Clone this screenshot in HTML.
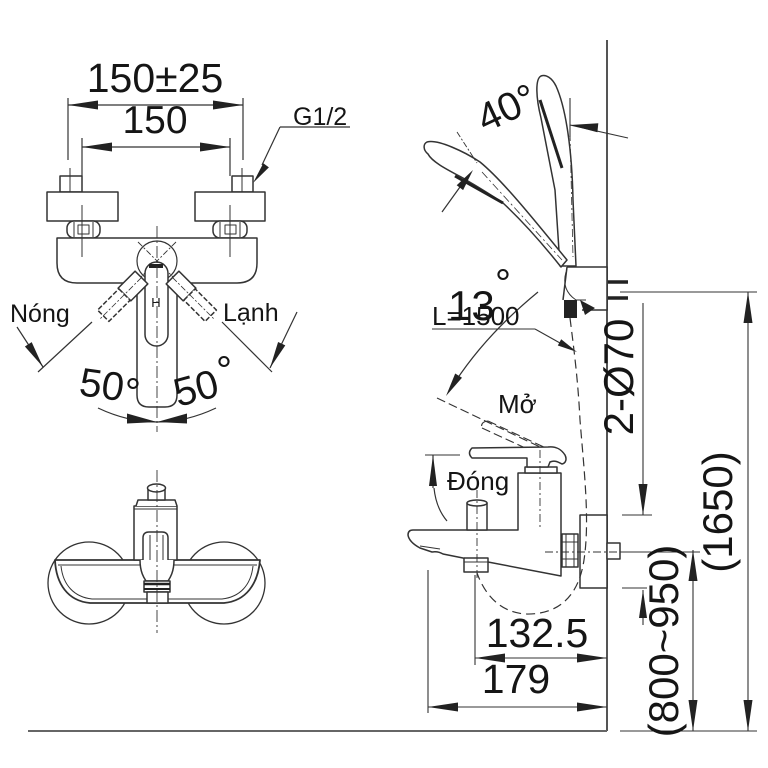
<!DOCTYPE html>
<html><head><meta charset="utf-8"><style>
html,body{margin:0;padding:0;background:#fff;}
svg{display:block}
text{font-family:"Liberation Sans",Arial,sans-serif;fill:#151515;stroke:none}
</style></head><body>
<svg width="768" height="768" viewBox="0 0 768 768" xmlns="http://www.w3.org/2000/svg">
<g fill="none" stroke="#333" stroke-width="1.5" stroke-linejoin="round">

<!-- ================= TOP-LEFT FRONT VIEW ================= -->
<!-- dimension lines -->
<line x1="68" y1="98" x2="68" y2="160" stroke-width="1.2"/>
<line x1="243" y1="98" x2="243" y2="160" stroke-width="1.2"/>
<line x1="68" y1="105" x2="243" y2="105" stroke-width="1.2"/>
<line x1="82" y1="138" x2="82" y2="176" stroke-width="1.2"/>
<line x1="230" y1="138" x2="230" y2="176" stroke-width="1.2"/>
<line x1="82" y1="147" x2="230" y2="147" stroke-width="1.2"/>
<g fill="#222" stroke="none">
<polygon points="68,105 98,100.5 98,109.5"/>
<polygon points="243,105 213,100.5 213,109.5"/>
<polygon points="82,147 112,142.5 112,151.5"/>
<polygon points="230,147 200,142.5 200,151.5"/>
</g>
<!-- G1/2 leader -->
<line x1="280" y1="127" x2="350" y2="127" stroke-width="1.2"/>
<line x1="280" y1="127" x2="262" y2="165" stroke-width="1.2"/>
<polygon points="253,183 263.3,163.2 268.9,167.4" fill="#222" stroke="none"/>

<!-- valve blocks -->
<rect x="60" y="176" width="22" height="16" fill="#fff"/>
<line x1="70" y1="168" x2="70" y2="192" stroke-width="1"/>
<rect x="232" y="176" width="21" height="16" fill="#fff"/>
<line x1="242" y1="168" x2="242" y2="192" stroke-width="1"/>
<rect x="47" y="192" width="71" height="29" fill="#fff"/>
<rect x="195" y="192" width="70" height="29" fill="#fff"/>
<rect x="67" y="221" width="33" height="17" rx="7" fill="#fff"/>
<line x1="74" y1="222" x2="74" y2="237" stroke-width="1"/>
<line x1="93" y1="222" x2="93" y2="237" stroke-width="1"/>
<rect x="78" y="225" width="11" height="9" stroke-width="1"/>
<rect x="213" y="221" width="34" height="17" rx="7" fill="#fff"/>
<line x1="220" y1="222" x2="220" y2="237" stroke-width="1"/>
<line x1="240" y1="222" x2="240" y2="237" stroke-width="1"/>
<rect x="225" y="225" width="11" height="9" stroke-width="1"/>

<!-- main body -->
<path d="M57,238 L257,238 L257,263 Q257,283 237,283 L77,283 Q57,283 57,263 Z" fill="#fff"/>
<line x1="82" y1="205" x2="82" y2="257" stroke-width="1"/>
<line x1="230" y1="205" x2="230" y2="257" stroke-width="1"/>

<!-- lever hub -->
<circle cx="157" cy="261" r="20" fill="#fff" stroke-width="1.2"/>
<line x1="138" y1="242" x2="176" y2="280" stroke-width="0.9" stroke-dasharray="6 2 2 2"/>
<line x1="176" y1="242" x2="138" y2="280" stroke-width="0.9" stroke-dasharray="6 2 2 2"/>

<!-- vertical handle -->
<path d="M137,283 L137,395 Q137,407 149,407 L165,407 Q177,407 177,395 L177,283" fill="#fff"/>
<rect x="145" y="262" width="23" height="84" rx="11.5" fill="#fff"/>
<rect x="149" y="264" width="14" height="4" fill="#222" stroke="none"/>
<text x="156" y="307" font-size="13" text-anchor="middle">H</text>

<!-- angled handles -->
<g transform="translate(157,262) rotate(45)">
<rect x="-9" y="22" width="18" height="24" fill="#fff"/>
<rect x="-8" y="46" width="16" height="30" fill="#fff" stroke-dasharray="5 2"/>
<line x1="0" y1="22" x2="0" y2="80" stroke-width="0.8" stroke-dasharray="6 2 2 2"/>
</g>
<g transform="translate(157,262) rotate(-45)">
<rect x="-9" y="22" width="18" height="24" fill="#fff"/>
<rect x="-8" y="46" width="16" height="30" fill="#fff" stroke-dasharray="5 2"/>
<line x1="0" y1="22" x2="0" y2="80" stroke-width="0.8" stroke-dasharray="6 2 2 2"/>
</g>

<line x1="157" y1="226" x2="157" y2="432" stroke-width="0.9" stroke-dasharray="12 3 2 3"/>

<!-- angle marks -->
<line x1="92" y1="322" x2="38" y2="372" stroke-width="1.2"/>
<line x1="222" y1="322" x2="272" y2="372" stroke-width="1.2"/>
<line x1="17" y1="327" x2="43" y2="367" stroke-width="1.2"/>
<line x1="297" y1="312" x2="270" y2="368" stroke-width="1.2"/>
<polygon points="43,367 24.9,346.5 31.7,342.1" fill="#222" stroke="none"/>
<polygon points="270,368 278.1,342 285.3,345.4" fill="#222" stroke="none"/>
<path d="M98,408 Q157,436 216,408" stroke-width="1.2"/>
<polygon points="127,413.5 127,423.5 157,422" fill="#222" stroke="none"/>
<polygon points="187,413.5 187,423.5 157,422" fill="#222" stroke="none"/>

<!-- ================= BOTTOM-LEFT VIEW ================= -->
<circle cx="89" cy="583" r="41" stroke-width="1.3"/>
<circle cx="224" cy="583" r="41" stroke-width="1.3"/>
<path d="M55,560 L260,560 C258,584 246,601 224,603 L90,603 C68,601 56,584 55,560 Z" fill="#fff" stroke-width="1.8"/>
<path d="M58,565 L257,565" stroke-width="1"/>
<path d="M61,566 C63,585 74,597 92,599 L222,599 C240,597 251,585 253,566" stroke-width="1"/>
<rect x="134" y="506" width="43" height="54" fill="#fff"/>
<path d="M136,506 L138,500 L175,500 L177,506" fill="#fff"/>
<line x1="134" y1="509" x2="177" y2="509" stroke-width="1"/>
<rect x="148" y="488" width="17" height="12" fill="#fff"/>
<ellipse cx="156.5" cy="488" rx="9" ry="4" fill="#fff"/>
<path d="M143,560 L143,538 Q143,532 149,532 L162,532 Q168,532 168,538 L168,560" fill="#fff"/>
<line x1="150" y1="535" x2="150" y2="560" stroke-width="1"/>
<line x1="163" y1="535" x2="163" y2="560" stroke-width="1"/>
<path d="M140,560 C140,572 144,578 146,581 L168,581 C170,578 174,572 174,560" fill="#fff"/>
<rect x="144" y="581" width="26" height="11" fill="#fff"/>
<line x1="144" y1="584" x2="170" y2="584" stroke-width="2.5" stroke="#222"/>
<line x1="144" y1="589" x2="170" y2="589" stroke-width="2" stroke="#222"/>
<rect x="147" y="592" width="21" height="11" fill="#fff"/>
<line x1="157" y1="470" x2="157" y2="633" stroke-width="0.9" stroke-dasharray="12 3 2 3"/>

<!-- ================= RIGHT SIDE VIEW ================= -->
<!-- wall & floor -->
<line x1="607" y1="40" x2="607" y2="731" stroke="#555" stroke-width="2"/>
<line x1="28" y1="731" x2="607" y2="731" stroke="#666" stroke-width="2"/>

<!-- handshower vertical -->
<path d="M541,76 C535,79 536,98 541,118 L555,190 L560,266 L576,266 L573,200 C572,150 566,108 556,86 C552,78 546,74 541,76 Z" fill="#fff"/>
<line x1="540" y1="100" x2="562" y2="168" stroke-width="3" stroke="#222"/>
<line x1="570" y1="133" x2="573" y2="257" stroke-width="0.8" stroke-dasharray="8 3 2 3"/>

<!-- handshower tilted -->
<path d="M427,142 C438,139 465,152 480,162 C502,180 532,217 567,260 L561,267 C538,238 518,217 503,203 C490,194 476,186 463,178 C448,170 432,162 428,154 C423,150 423,144 427,142 Z" fill="#fff"/>
<line x1="455" y1="176" x2="503" y2="203" stroke-width="3" stroke="#222"/>
<line x1="482" y1="172" x2="562" y2="260" stroke-width="0.8" stroke-dasharray="8 3 2 3"/>
<line x1="457" y1="132" x2="477" y2="163" stroke-width="0.9" stroke-dasharray="6 2 2 2"/>
<line x1="442" y1="212" x2="465" y2="180" stroke-width="1.2"/>
<polygon points="473,170 463.1,190.1 456.7,185.3" fill="#222" stroke="none"/>

<!-- 40 deg dim -->
<line x1="570" y1="98" x2="570" y2="137" stroke-width="1.1"/>
<line x1="570" y1="125" x2="628" y2="138" stroke-width="1.1"/>
<polygon points="570,125 598.3,123.3 597.4,132.3" fill="#222" stroke="none"/>

<!-- bracket -->
<path d="M567,267 L607,267 L607,310 L582,310" fill="#fff"/>
<line x1="567" y1="267" x2="563" y2="300"/>
<path d="M566,272 Q561,290 576,300 L586,300" stroke-width="1"/>
<rect x="564" y="300" width="13" height="18" fill="#222" stroke="none"/>
<polygon points="580,300 595,308 585,315" fill="#222" stroke="none"/>
<line x1="608" y1="282" x2="628" y2="282" stroke-width="3.5" stroke="#222"/>
<line x1="608" y1="298" x2="628" y2="298" stroke-width="3.5" stroke="#222"/>

<!-- L=1500 leader -->
<line x1="432" y1="329" x2="535" y2="329" stroke-width="1.1"/>
<line x1="535" y1="329" x2="560" y2="343" stroke-width="1.1"/>
<polygon points="577,352 557.8,345.5 561.2,339.3" fill="#222" stroke="none"/>

<!-- 13 deg arc -->
<path d="M538,292 Q482,338 450,390" stroke-width="1.2"/>
<polygon points="446,396 455.2,373.5 462,377.7" fill="#222" stroke="none"/>

<!-- open lever (dashed) -->
<line x1="437" y1="398" x2="540" y2="447" stroke-width="1.1" stroke-dasharray="9 4"/>
<path d="M488,421 L546,448 M482,428 L534,452 M488,421 Q480,422 482,428" stroke-width="1.1" stroke-dasharray="9 4"/>

<!-- Đóng arrow -->
<line x1="425" y1="455" x2="460" y2="455" stroke-width="1.1"/>
<line x1="433" y1="455" x2="433" y2="488" stroke-width="1.2"/>
<polygon points="433,455 429,486 437,486" fill="#222" stroke="none"/>
<path d="M434,488 Q436,508 447,521" stroke-width="1.2"/>

<!-- plate & bolt -->
<rect x="580" y="515" width="27" height="73" fill="#fff"/>
<rect x="607" y="543" width="13" height="16" fill="#fff"/>

<!-- faucet body -->
<path d="M413,530 L518,530 L518,473 L561,473 L561,576 L488,562 L463,558 L443,554 Q438,551 432,552 L420,548 Q409,542 408,535 Q408,530 413,530 Z" fill="#fff"/>
<line x1="420" y1="546" x2="440" y2="549" stroke-width="1"/>
<rect x="525" y="467" width="32" height="6" fill="#fff"/>
<path d="M472,448 L548,447 C556,446 561,449 565,455 C567,459 566,463 562,464 C558,462 555,460 550,462 L548,467 L527,467 L527,458 L472,458 Q467,453 472,448 Z" fill="#fff"/>
<rect x="562" y="534" width="16" height="33" fill="#fff"/>
<line x1="562" y1="542" x2="578" y2="542" stroke-width="1"/>
<line x1="562" y1="559" x2="578" y2="559" stroke-width="1"/>
<line x1="566" y1="534" x2="566" y2="567" stroke-width="1"/>
<line x1="574" y1="534" x2="574" y2="567" stroke-width="1"/>
<rect x="467" y="503" width="20" height="27" fill="#fff"/>
<ellipse cx="477" cy="503" rx="10" ry="3" fill="#fff"/>
<rect x="464" y="558" width="24" height="14" fill="#fff"/>
<line x1="464" y1="562" x2="488" y2="562" stroke-width="1"/>
<line x1="477" y1="490" x2="477" y2="578" stroke-width="0.9" stroke-dasharray="8 3 2 3"/>
<line x1="540" y1="450" x2="540" y2="530" stroke-width="0.9" stroke-dasharray="8 3 2 3"/>
<line x1="545" y1="552" x2="622" y2="552" stroke-width="0.9" stroke-dasharray="8 3 2 3"/>

<!-- hose dashed -->
<path d="M570,318 C574,350 578,380 580,420 C584,470 590,520 584,560 C578,600 555,615 525,614 C500,612 485,595 477,573" stroke-width="1.2" stroke-dasharray="9 5"/>

<!-- bottom dims -->
<line x1="428" y1="570" x2="428" y2="713" stroke-width="1.1"/>
<line x1="475" y1="575" x2="475" y2="665" stroke-width="1.1"/>
<line x1="475" y1="658" x2="607" y2="658" stroke-width="1.1"/>
<line x1="428" y1="707" x2="607" y2="707" stroke-width="1.1"/>
<g fill="#222" stroke="none">
<polygon points="475,658 505,653.5 505,662.5"/>
<polygon points="607,658 577,653.5 577,662.5"/>
<polygon points="428,707 458,702.5 458,711.5"/>
<polygon points="607,707 577,702.5 577,711.5"/>
</g>

<!-- right dims -->
<line x1="620" y1="292" x2="757" y2="292" stroke-width="1.1"/>
<line x1="622" y1="515" x2="652" y2="515" stroke-width="1.1"/>
<line x1="622" y1="552" x2="700" y2="552" stroke-width="1.1"/>
<line x1="622" y1="588" x2="647" y2="588" stroke-width="1.1"/>
<line x1="620" y1="731" x2="757" y2="731" stroke-width="1.1"/>
<line x1="643" y1="303" x2="643" y2="515" stroke-width="1.1"/>
<line x1="693" y1="550" x2="693" y2="731" stroke-width="1.1"/>
<line x1="748" y1="292" x2="748" y2="731" stroke-width="1.1"/>
<line x1="643" y1="590" x2="643" y2="625" stroke-width="1.1"/>
<g fill="#222" stroke="none">
<polygon points="643,515 638.5,484 647.5,484"/>
<polygon points="748,292 743.5,323 752.5,323"/>
<polygon points="748,731 743.5,700 752.5,700"/>
<polygon points="693,550 688.5,581 697.5,581"/>
<polygon points="693,731 688.5,700 697.5,700"/>
<polygon points="643,590 639,618 647,618"/>
</g>
</g>

<!-- ================= TEXT ================= -->
<text x="155" y="92" font-size="41" text-anchor="middle">150±25</text>
<text x="155" y="133" font-size="39" text-anchor="middle">150</text>
<text x="293" y="125" font-size="25">G1/2</text>
<text x="10" y="322" font-size="25">Nóng</text>
<text x="223" y="321" font-size="25">Lạnh</text>
<text x="78" y="395" font-size="40" transform="rotate(8 78 395)">50</text>
<text x="125" y="406" font-size="40">°</text>
<text x="178" y="407" font-size="40" transform="rotate(-15 178 407)">50</text>
<text x="216" y="384" font-size="40">°</text>

<text x="485" y="133" font-size="40" transform="rotate(-25 485 133)">40°</text>
<text x="432" y="325" font-size="26">L=1500</text>
<text x="448" y="320" font-size="42">13</text>
<text x="495" y="297" font-size="40">°</text>
<text x="498" y="413" font-size="26">Mở</text>
<text x="447" y="490" font-size="26">Đóng</text>
<text x="537" y="647" font-size="41" text-anchor="middle">132.5</text>
<text x="516" y="693" font-size="41" text-anchor="middle">179</text>
<text transform="translate(618,377) rotate(-90)" x="0" y="15" font-size="42" text-anchor="middle">2-Ø70</text>
<text transform="translate(717,512) rotate(-90)" x="0" y="15" font-size="42" text-anchor="middle">(1650)</text>
<text transform="translate(663,641) rotate(-90)" x="0" y="15" font-size="42" text-anchor="middle">(800~950)</text>
</svg>
</body></html>
